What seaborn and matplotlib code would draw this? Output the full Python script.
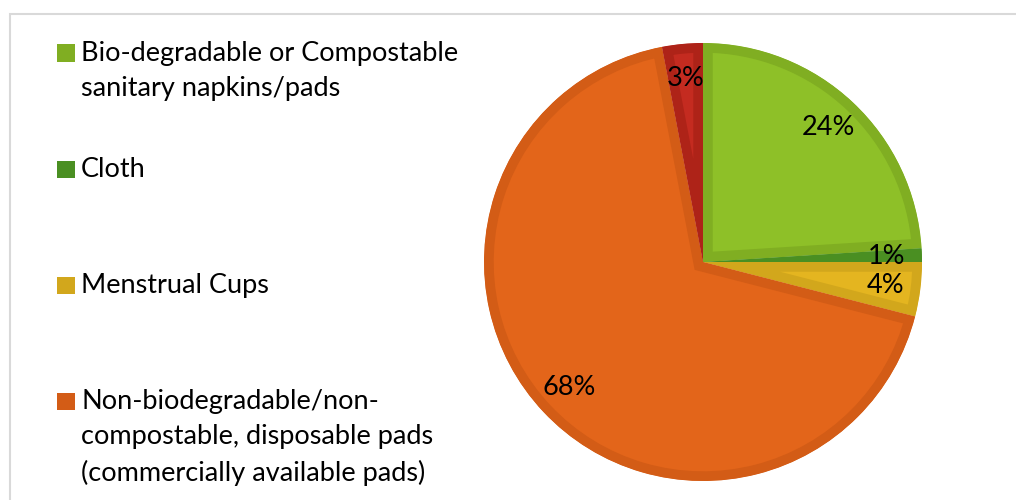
import matplotlib
matplotlib.use("Agg")
import matplotlib.pyplot as plt
from matplotlib.patches import Rectangle
import seaborn as sns

# share of respondents by menstrual product used
categories = [
    "Bio-degradable or Compostable\nsanitary napkins/pads",
    "Cloth",
    "Menstrual Cups",
    "Non-biodegradable/non-\ncompostable, disposable pads\n(commercially available pads)",
    "Other",
]
shares = [24, 1, 4, 68, 3]
legend_items = [0, 1, 2, 3]  # Excel legend shows only these

fill_colors = ["#8ec028", "#4e9a22", "#e4b520", "#e3651a", "#c42b20"]
edge_colors = ["#80ae22", "#4a8f22", "#d2a71c", "#d35c16", "#ae2318"]

sns.set_theme(style="white")
plt.rcParams["font.family"] = ["Lato", "DejaVu Sans"]

fig = plt.figure(figsize=(10.16, 5.0), dpi=100)
ax = fig.add_axes([484 / 1016, 19 / 500, 438 / 1016, 438 / 500])

wedges, texts, autotexts = ax.pie(
    shares,
    colors=fill_colors,
    startangle=90,
    counterclock=False,
    autopct="%.0f%%",
    pctdistance=0.84,
    textprops={"fontsize": 19.5, "color": "black"},
)
ax.set_xlim(-1, 1)
ax.set_ylim(-1, 1)
ax.set_aspect("equal")
ax.axis("off")

# darker inner border like the Excel style: thick edge clipped to the wedge
for w, ec in zip(wedges, edge_colors):
    w.set_edgecolor(ec)
    w.set_linewidth(14)
    w.set_clip_on(True)
    w.set_clip_path(w.get_path(), w.get_transform())

# legend on the left, entries evenly spaced
for k, i in enumerate(legend_items):
    yc = 1 - (53 + 116 * k) / 500
    fig.add_artist(Rectangle((57 / 1016, yc - 8.5 / 500), 18 / 1016, 17 / 500,
                             transform=fig.transFigure, color=edge_colors[i], lw=0))
    fig.text(81 / 1016, yc + 12 / 500, categories[i], fontsize=19.5, va="top",
             ha="left", linespacing=1.52, color="black")

# outer chart frame
fig.add_artist(Rectangle((10 / 1016, -0.1), 1.2, (486 / 500) + 0.1,
                         transform=fig.transFigure, fill=False,
                         edgecolor="#d9d9d9", lw=1.5))

fig.savefig("out.png", dpi=100)
